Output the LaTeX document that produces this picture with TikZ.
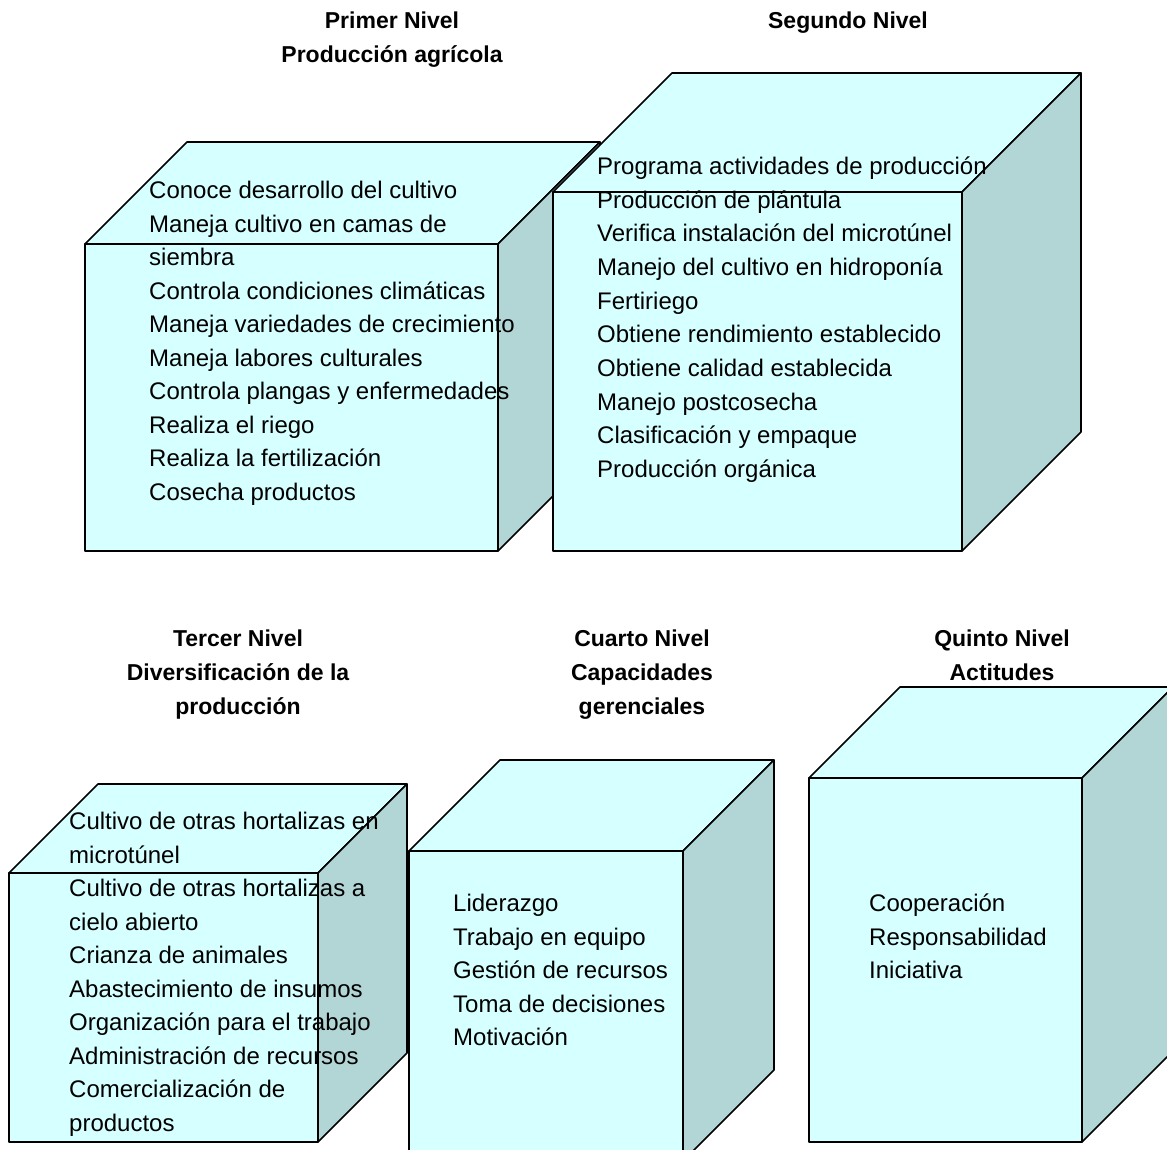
\documentclass[tikz,border=0pt]{standalone}
\usepackage{fontspec}
\setmainfont{Liberation Sans}
\definecolor{facec}{RGB}{214,255,255}
\definecolor{sidec}{RGB}{178,214,214}
\tikzset{
  facestyle/.style={draw=black, line width=1.6pt, fill=facec, line join=round},
  sidestyle/.style={draw=black, line width=1.6pt, fill=sidec, line join=round},
  body/.style={anchor=base west, inner sep=0pt, font=\fontsize{24}{28}\selectfont},
  ttl/.style={anchor=base, inner sep=0pt, font=\fontsize{23}{28}\selectfont\bfseries},
}
% #1 x0 (front left), #2 y0 (front top), #3 width, #4 height, #5 depth
\newcommand{\drawcube}[5]{%
  \draw[facestyle] (#1,#2) -- ({#1+#5},{#2-#5}) -- ({#1+#3+#5},{#2-#5}) -- ({#1+#3},#2) -- cycle;
  \draw[sidestyle] ({#1+#3},#2) -- ({#1+#3+#5},{#2-#5}) -- ({#1+#3+#5},{#2+#4-#5}) -- ({#1+#3},{#2+#4}) -- cycle;
  \draw[facestyle] (#1,#2) rectangle ({#1+#3},{#2+#4});
}
\begin{document}
\begin{tikzpicture}[x=1pt,y=-1pt]
\useasboundingbox (0,0) rectangle (1167,1150);
\clip (0,0) rectangle (1167,1150);

% titles
\node[ttl] (t1a) at (392,29) {Primer Nivel};
\node[ttl] (t1b) at (392,63) {Producción agrícola};
\node[ttl] (t2a) at (848,29) {Segundo Nivel};
\node[ttl] (t3a) at (238,646) {Tercer Nivel};
\node[ttl] (t3b) at (238,680) {Diversificación de la};
\node[ttl] (t3c) at (238,714) {producción};
\node[ttl] (t4a) at (642,646) {Cuarto Nivel};
\node[ttl] (t4b) at (642,680) {Capacidades};
\node[ttl] (t4c) at (642,714) {gerenciales};
\node[ttl] (t5a) at (1002,646) {Quinto Nivel};
\node[ttl] (t5b) at (1002,680) {Actitudes};

% cube 1
\drawcube{85}{244}{413}{307}{102}
\foreach \t [count=\i] in {Conoce desarrollo del cultivo, Maneja cultivo en camas de, siembra, Controla condiciones climáticas, Maneja variedades de crecimiento, Maneja labores culturales, Controla plangas y enfermedades, Realiza el riego, Realiza la fertilización, Cosecha productos}
  \node[body] (a\i) at (149,{198.5+33.56*(\i-1)}) {\t};

% cube 2
\drawcube{553}{192}{409}{359}{119}
\foreach \t [count=\i] in {Programa actividades de producción, Producción de plántula, Verifica instalación del microtúnel, Manejo del cultivo en hidroponía, Fertiriego, Obtiene rendimiento establecido, Obtiene calidad establecida, Manejo postcosecha, Clasificación y empaque, Producción orgánica}
  \node[body] (b\i) at (597,{174.5+33.67*(\i-1)}) {\t};

% cube 3
\drawcube{9}{873}{309}{269}{89}
\foreach \t [count=\i] in {Cultivo de otras hortalizas en, microtúnel, Cultivo de otras hortalizas a, cielo abierto, Crianza de animales, Abastecimiento de insumos, Organización para el trabajo, Administración de recursos, Comercialización de, productos}
  \node[body] (c\i) at (69,{829.5+33.56*(\i-1)}) {\t};

% cube 4
\drawcube{409}{851}{274}{310}{91}
\foreach \t [count=\i] in {Liderazgo, Trabajo en equipo, Gestión de recursos, Toma de decisiones, Motivación}
  \node[body] (d\i) at (453,{911.5+33.5*(\i-1)}) {\t};

% cube 5
\drawcube{809}{778}{273}{364}{91}
\foreach \t [count=\i] in {Cooperación, Responsabilidad, Iniciativa}
  \node[body] (e\i) at (869,{911.5+33.5*(\i-1)}) {\t};
\end{tikzpicture}
\end{document}
